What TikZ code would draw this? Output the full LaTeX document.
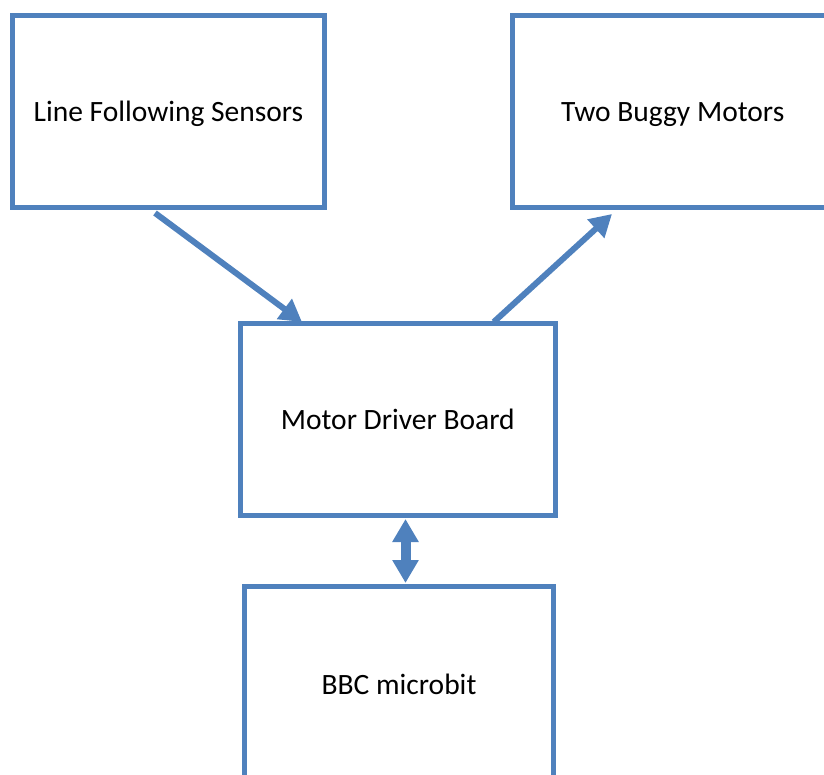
\documentclass[tikz,border=0pt]{standalone}
\usepackage{fontspec}
\setmainfont{Carlito}
\usepackage{tikz}
\usetikzlibrary{arrows.meta,positioning,calc}
\definecolor{boxblue}{RGB}{79,129,189}
\tikzset{block/.style={draw=boxblue,line width=5pt,fill=white,rectangle,inner sep=0pt,outer sep=0pt,text depth=0pt,align=center}}
\tikzset{link/.style={draw=boxblue,line width=6pt,-{Triangle[length=22pt,width=24pt]}}}
\tikzset{twoway/.style={draw=boxblue,line width=10pt,{Triangle[length=23pt,width=25pt]}-{Triangle[length=23pt,width=25pt]}}}

\begin{document}
\begin{tikzpicture}[x=1pt, y=-1pt, font=\fontsize{29.5}{35}\selectfont]
        \useasboundingbox (0,0) rectangle (824,775);
        \clip (0,0) rectangle (824,775);
        \node[block, minimum width=312pt, minimum height=191.5pt] (sensors) at (168.5,111.75) {Line Following Sensors};
        \node[block, minimum width=320.5pt, minimum height=191.5pt] (motors) at (672.75,111.75) {Two Buggy Motors};
        \node[block, minimum width=314.5pt, minimum height=191.5pt] (driver) at (397.75,419.75) {Motor Driver Board};
        \node[block, minimum width=309pt, minimum height=196pt] (microbit) at (399,684) {BBC microbit};
        % arrow ends
        \coordinate (sensors out) at ($(sensors.south)+(-13.5,5.5)$);
        \coordinate (driver in) at ($(driver.north)+(-95.75,-2)$);
        \coordinate (driver out) at ($(driver.north)+(96,-2)$);
        \coordinate (motors in) at ($(motors.south)+(-60.75,6.5)$);
        \coordinate (driver link) at ($(driver.south)+(7.75,3.5)$);
        \coordinate (microbit link) at ($(microbit.north)+(6.5,-3)$);
        \path (sensors out) edge[link] (driver in);
        \path (driver out) edge[link] (motors in);
        \path (driver link) edge[twoway] (microbit link);
\end{tikzpicture}
\end{document}
